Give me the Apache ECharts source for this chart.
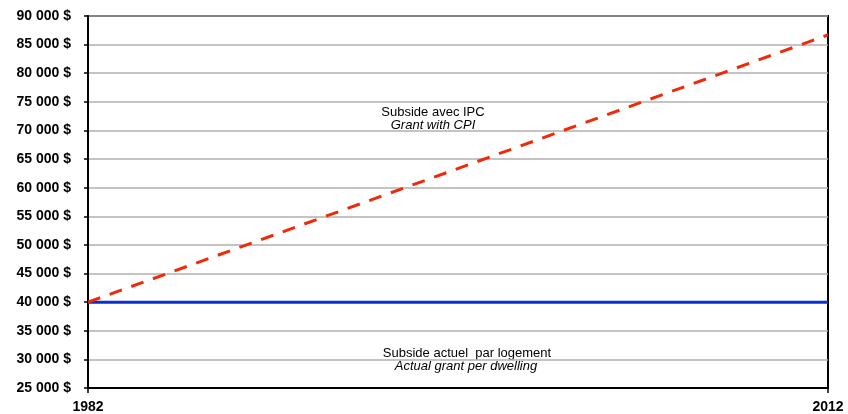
<!DOCTYPE html>
<html>
<head>
<meta charset="utf-8">
<script src="https://cdn.jsdelivr.net/npm/echarts@6/dist/echarts.min.js"></script>
<style>
  html, body { margin: 0; padding: 0; background: #fff; }
  #chart { width: 848px; height: 414px; }
</style>
</head>
<body>
<div id="chart"></div>
<script>
// Years at each end of the period
const years = [1982, 2012];
// Grant indexed to the consumer price index ($)
const grantWithCpi = [40000, 86700];
// Actual grant per dwelling ($)
const actualGrant = [40000, 40000];
// Y axis range and step
const yMin = 25000;
const yMax = 90000;
const yStep = 5000;

const FONT = '"Liberation Sans", Arial, sans-serif';

function formatDollars(v) {
  const s = String(Math.round(v));
  return s.replace(/\B(?=(\d{3})+(?!\d))/g, ' ') + ' $';
}

const chart = echarts.init(document.getElementById('chart'), null, { renderer: 'canvas' });

chart.setOption({
  animation: false,
  backgroundColor: '#ffffff',
  grid: {
    left: 88, right: 20, top: 16, bottom: 26,
    show: true,
    borderColor: '#000000',
    borderWidth: 2,
    backgroundColor: 'transparent'
  },
  xAxis: {
    type: 'value',
    min: years[0],
    max: years[years.length - 1],
    axisLine: { show: true, lineStyle: { color: '#000', width: 2 } },
    axisTick: {
      show: true, inside: false, length: 5,
      customValues: years,
      lineStyle: { color: '#000', width: 1.5 }
    },
    axisLabel: {
      customValues: years,
      margin: 12,
      color: '#000',
      fontFamily: FONT,
      fontWeight: 'bold',
      fontSize: 14,
      formatter: v => String(v)
    },
    splitLine: { show: false }
  },
  yAxis: {
    type: 'value',
    min: yMin,
    max: yMax,
    interval: yStep,
    axisLine: { show: true, lineStyle: { color: '#000', width: 2 } },
    axisTick: { show: true, inside: false, length: 4, lineStyle: { color: '#000', width: 1.5 } },
    axisLabel: {
      margin: 17,
      color: '#000',
      fontFamily: FONT,
      fontWeight: 'bold',
      fontSize: 14,
      formatter: formatDollars
    },
    splitLine: { show: true, lineStyle: { color: '#b0b0b0', width: 1.5 } }
  },
  series: [
    {
      name: 'Actual grant per dwelling',
      type: 'line',
      data: years.map((y, i) => [y, actualGrant[i]]),
      symbol: 'none',
      lineStyle: { color: '#0a2fd0', width: 3, type: 'solid' },
      z: 3
    },
    {
      name: 'Grant with CPI',
      type: 'line',
      data: years.map((y, i) => [y, grantWithCpi[i]]),
      symbol: 'none',
      lineStyle: { color: '#ee2a0a', width: 3, type: [13, 10], cap: 'butt' },
      z: 4
    }
  ],
  graphic: [
    {
      type: 'text', x: 433, y: 112,
      style: { text: 'Subside avec IPC', fill: '#000', font: '13px ' + FONT, align: 'center', verticalAlign: 'middle' }
    },
    {
      type: 'text', x: 433, y: 125,
      style: { text: 'Grant with CPI', fill: '#000', font: 'italic 13px ' + FONT, align: 'center', verticalAlign: 'middle' }
    },
    {
      type: 'text', x: 467, y: 353,
      style: { text: 'Subside actuel  par logement', fill: '#000', font: '13px ' + FONT, align: 'center', verticalAlign: 'middle' }
    },
    {
      type: 'text', x: 466, y: 366,
      style: { text: 'Actual grant per dwelling', fill: '#000', font: 'italic 13px ' + FONT, align: 'center', verticalAlign: 'middle' }
    }
  ]
});
</script>
</body>
</html>
